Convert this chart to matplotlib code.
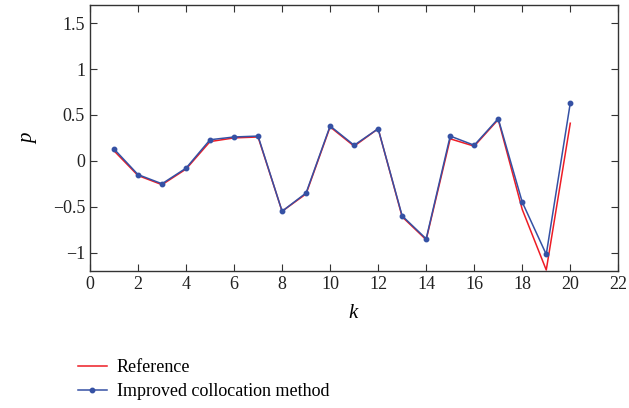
import matplotlib
matplotlib.use("Agg")
import matplotlib.pyplot as plt

k = list(range(1, 21))
reference = [0.11, -0.16, -0.26, -0.09, 0.21, 0.25, 0.26, -0.55, -0.36, 0.37,
             0.16, 0.35, -0.61, -0.86, 0.24, 0.16, 0.45, -0.53, -1.19, 0.41]
improved = [0.13, -0.15, -0.25, -0.08, 0.23, 0.26, 0.27, -0.55, -0.35, 0.38,
            0.17, 0.35, -0.60, -0.85, 0.27, 0.17, 0.46, -0.45, -1.02, 0.63]
xticks = list(range(0, 23, 2))
yticks = [-1, -0.5, 0, 0.5, 1, 1.5]
ytick_labels = ["\u22121", "\u22120.5", "0", "0.5", "1", "1.5"]

plt.rcParams['font.family'] = ['Liberation Serif', 'DejaVu Serif']
plt.rcParams['mathtext.fontset'] = 'custom'
plt.rcParams['mathtext.it'] = 'Liberation Serif:italic'

fig = plt.figure(figsize=(6.29, 4.08), dpi=100)
ax = fig.add_axes([0.143, 0.336, 0.84, 0.652])

ax.plot(k, reference, color='#ee1c25', lw=1.1, label='Reference')
ax.plot(k, improved, color='#3551a4', lw=1.1, marker='o', ms=3.2,
        label='Improved collocation method')

ax.set_xlim(0, 22)
ax.set_ylim(-1.2, 1.7)
ax.set_xticks(xticks)
ax.set_yticks(yticks)
ax.set_yticklabels(ytick_labels)
ax.tick_params(direction='in', top=True, right=True, labelsize=13, length=5, colors='#333333')
for lab in ax.get_xticklabels() + ax.get_yticklabels():
    lab.set_color('#222222')
for s in ax.spines.values():
    s.set_color('#333333')
    s.set_linewidth(1.0)
ax.set_xlabel('$k$', fontsize=15, labelpad=8)
ax.set_ylabel('$p$', fontsize=15, labelpad=10)

fig.legend(loc='upper left', bbox_to_anchor=(0.098, 0.16), frameon=False,
           fontsize=13, handlelength=1.6, labelspacing=0.4, handletextpad=0.55)

fig.savefig('out.png', dpi=100)
